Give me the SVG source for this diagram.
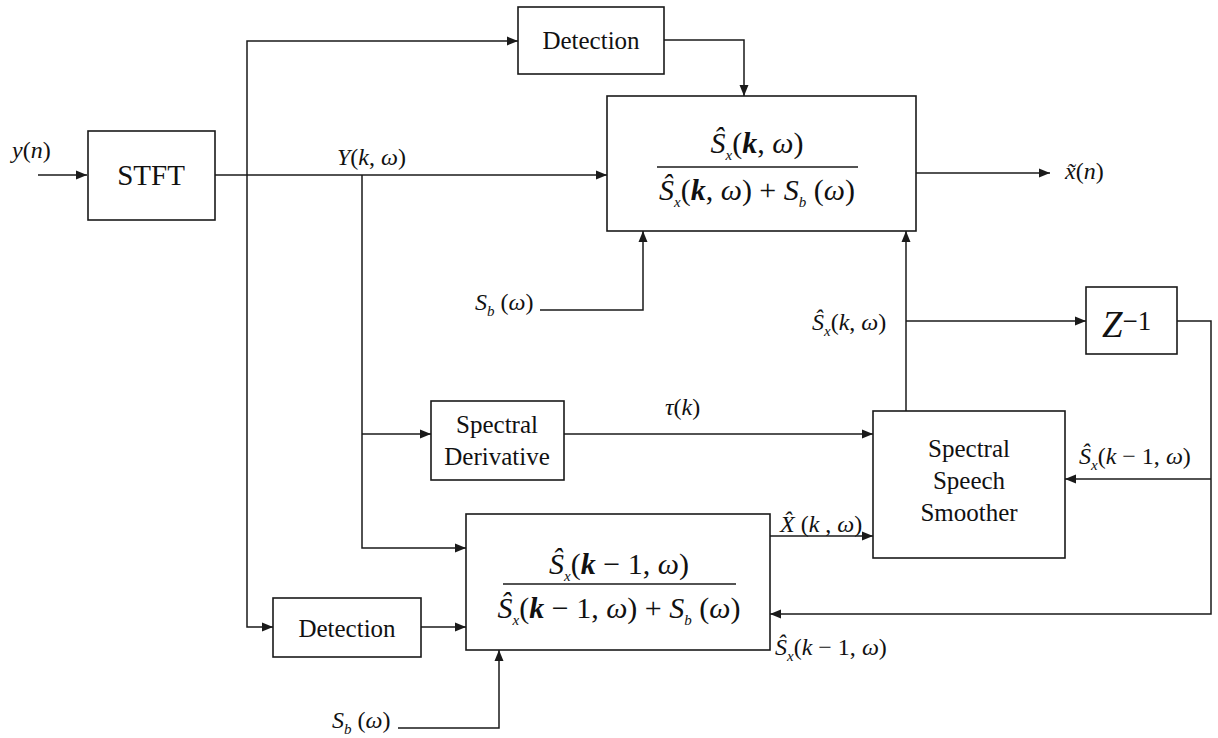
<svg xmlns="http://www.w3.org/2000/svg" width="1218" height="738" viewBox="0 0 1218 738" font-family="Times New Roman, Liberation Serif, Noto Serif, FreeSerif, DejaVu Serif, serif">
<style>
.box{fill:#fff;stroke:#1a1a1a;stroke-width:1.6}
.ln{fill:none;stroke:#1a1a1a;stroke-width:1.5}
text{fill:#111}
.lbl{font-size:25px;text-anchor:middle}
.m{font-size:24px}
.f{font-size:30px;text-anchor:middle}
.i{font-style:italic}
.b{font-weight:bold}
.sub{font-size:15px}
</style>
<defs>
<marker id="ar" markerUnits="userSpaceOnUse" markerWidth="12" markerHeight="10" refX="11" refY="5" orient="auto">
<path d="M0,0.5 L11,5 L0,9.5 z" fill="#1a1a1a"/>
</marker>
</defs>

<g id="connectors">
<path class="ln" marker-end="url(#ar)" d="M38,175 H87"/>
<path class="ln" marker-end="url(#ar)" d="M215,175 H607"/>
<path class="ln" marker-end="url(#ar)" d="M247,175 V41 H518"/>
<path class="ln" marker-end="url(#ar)" d="M247,175 V627 H273"/>
<path class="ln" marker-end="url(#ar)" d="M664,40 H744 V96"/>
<path class="ln" marker-end="url(#ar)" d="M540,310 H643 V231"/>
<path class="ln" marker-end="url(#ar)" d="M916,173 H1050"/>
<path class="ln" marker-end="url(#ar)" d="M906,411 V231"/>
<path class="ln" marker-end="url(#ar)" d="M906,321 H1086"/>
<path class="ln" marker-end="url(#ar)" d="M1177,321 H1211 V614 H770"/>
<path class="ln" marker-end="url(#ar)" d="M1211,479 H1065"/>
<path class="ln" marker-end="url(#ar)" d="M362,175 V548 H466"/>
<path class="ln" marker-end="url(#ar)" d="M362,434 H431"/>
<path class="ln" marker-end="url(#ar)" d="M564,434 H873"/>
<path class="ln" marker-end="url(#ar)" d="M770,536 H873"/>
<path class="ln" marker-end="url(#ar)" d="M421,627 H466"/>
<path class="ln" marker-end="url(#ar)" d="M398,728 H499 V650"/>
</g>

<g id="stft">
<rect class="box" x="88" y="131" width="127" height="89"/>
<text x="151" y="185" font-size="29" text-anchor="middle">STFT</text>
</g>

<g id="detection-top">
<rect class="box" x="518" y="7" width="146" height="67"/>
<text class="lbl" x="591" y="49" font-size="26">Detection</text>
</g>

<g id="wiener-main">
<rect class="box" x="607" y="96" width="309" height="135"/>
<line class="ln" x1="657" y1="167" x2="858" y2="167"/>
<text class="f" x="757" y="153"><tspan class="i">Ŝ</tspan><tspan class="i sub" dy="7">x</tspan><tspan dy="-7">(</tspan><tspan class="i b">k</tspan><tspan>, </tspan><tspan class="i">ω</tspan><tspan>)</tspan></text>
<text class="f" x="757" y="200"><tspan class="i">Ŝ</tspan><tspan class="i sub" dy="7">x</tspan><tspan dy="-7">(</tspan><tspan class="i b">k</tspan><tspan>, </tspan><tspan class="i">ω</tspan><tspan>) + </tspan><tspan class="i">S</tspan><tspan class="i sub" dy="7">b</tspan><tspan dy="-7"> (</tspan><tspan class="i">ω</tspan><tspan>)</tspan></text>
</g>

<g id="z-delay">
<rect class="box" x="1086" y="287" width="91" height="67"/>
<text x="1102" y="337"><tspan class="i" font-size="37">Z</tspan><tspan font-size="27" dy="-7">−1</tspan></text>
</g>

<g id="spectral-derivative">
<rect class="box" x="431" y="401" width="133" height="79"/>
<text class="lbl" x="497" y="433">Spectral</text>
<text class="lbl" x="497" y="465">Derivative</text>
</g>

<g id="smoother">
<rect class="box" x="873" y="411" width="192" height="147"/>
<text class="lbl" x="969" y="457">Spectral</text>
<text class="lbl" x="969" y="489">Speech</text>
<text class="lbl" x="969" y="521">Smoother</text>
</g>

<g id="wiener-prior">
<rect class="box" x="466" y="514" width="304" height="136"/>
<line class="ln" x1="503" y1="584" x2="736" y2="584"/>
<text class="f" x="619" y="574"><tspan class="i">Ŝ</tspan><tspan class="i sub" dy="7">x</tspan><tspan dy="-7">(</tspan><tspan class="i b">k</tspan><tspan> − 1, </tspan><tspan class="i">ω</tspan><tspan>)</tspan></text>
<text class="f" x="619" y="618"><tspan class="i">Ŝ</tspan><tspan class="i sub" dy="7">x</tspan><tspan dy="-7">(</tspan><tspan class="i b">k</tspan><tspan> − 1, </tspan><tspan class="i">ω</tspan><tspan>) + </tspan><tspan class="i">S</tspan><tspan class="i sub" dy="7">b</tspan><tspan dy="-7"> (</tspan><tspan class="i">ω</tspan><tspan>)</tspan></text>
</g>

<g id="detection-bottom">
<rect class="box" x="273" y="598" width="148" height="59"/>
<text class="lbl" x="347" y="637" font-size="26">Detection</text>
</g>

<g id="labels">
<text class="m" x="12" y="158"><tspan class="i">y</tspan>(<tspan class="i">n</tspan>)</text>
<text class="m" x="337" y="165"><tspan class="i">Y</tspan>(<tspan class="i">k</tspan>, <tspan class="i">ω</tspan>)</text>
<text class="m" x="1065" y="179"><tspan class="i">x̃</tspan>(<tspan class="i">n</tspan>)</text>
<text class="m" x="475" y="310"><tspan class="i">S</tspan><tspan class="i sub" dy="6">b</tspan><tspan dy="-6"> (</tspan><tspan class="i">ω</tspan>)</text>
<text class="m" x="812" y="330"><tspan class="i">Ŝ</tspan><tspan class="i sub" dy="6">x</tspan><tspan dy="-6">(</tspan><tspan class="i">k</tspan>, <tspan class="i">ω</tspan>)</text>
<text class="m" x="665" y="415"><tspan class="i">τ</tspan>(<tspan class="i">k</tspan>)</text>
<text class="m" x="1079" y="464"><tspan class="i">Ŝ</tspan><tspan class="i sub" dy="6">x</tspan><tspan dy="-6">(</tspan><tspan class="i">k</tspan> − 1, <tspan class="i">ω</tspan>)</text>
<text class="m" x="780" y="532"><tspan class="i">X̂</tspan> (<tspan class="i">k</tspan> , <tspan class="i">ω</tspan>)</text>
<text class="m" x="775" y="655"><tspan class="i">Ŝ</tspan><tspan class="i sub" dy="6">x</tspan><tspan dy="-6">(</tspan><tspan class="i">k</tspan> − 1, <tspan class="i">ω</tspan>)</text>
<text class="m" x="332" y="728"><tspan class="i">S</tspan><tspan class="i sub" dy="6">b</tspan><tspan dy="-6"> (</tspan><tspan class="i">ω</tspan>)</text>
</g>
</svg>
